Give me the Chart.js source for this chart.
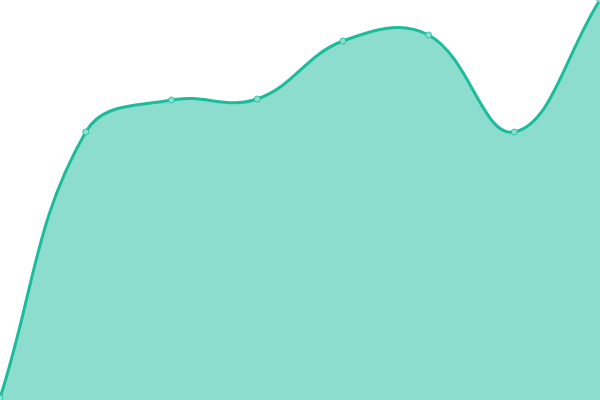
<!DOCTYPE html>
<html><head><meta charset="utf-8">
<script src="https://cdn.jsdelivr.net/npm/chart.js@4"></script>
<style>html,body{margin:0;padding:0;background:#fff}#wrap{width:600px;height:400px}</style>
</head><body><div id="wrap"><canvas id="c"></canvas></div>
<script>
const labels = ["1","2","3","4","5","6","7","8"];
const values = [2, 268, 300, 301, 359, 365, 268, 400];
const lineColor = "#1abc9c";
new Chart(document.getElementById("c"), {
  type: "line",
  data: { labels: labels, datasets: [{
    data: values,
    borderColor: lineColor,
    backgroundColor: "rgba(26,188,156,0.5)",
    borderWidth: 3,
    fill: true,
    tension: 0.4,
    pointRadius: 3,
    pointBorderWidth: 1,
    pointBackgroundColor: "rgba(140,224,208,1)",
    pointBorderColor: "rgba(26,188,156,0.8)"
  }]},
  options: {
    responsive: true, maintainAspectRatio: false, animation: false,
    layout: { padding: 0, autoPadding: false },
    plugins: { legend: { display: false }, tooltip: { enabled: false } },
    scales: {
      x: { display: false },
      y: { display: false, min: 0, max: 400 }
    }
  }
});
</script></body></html>
